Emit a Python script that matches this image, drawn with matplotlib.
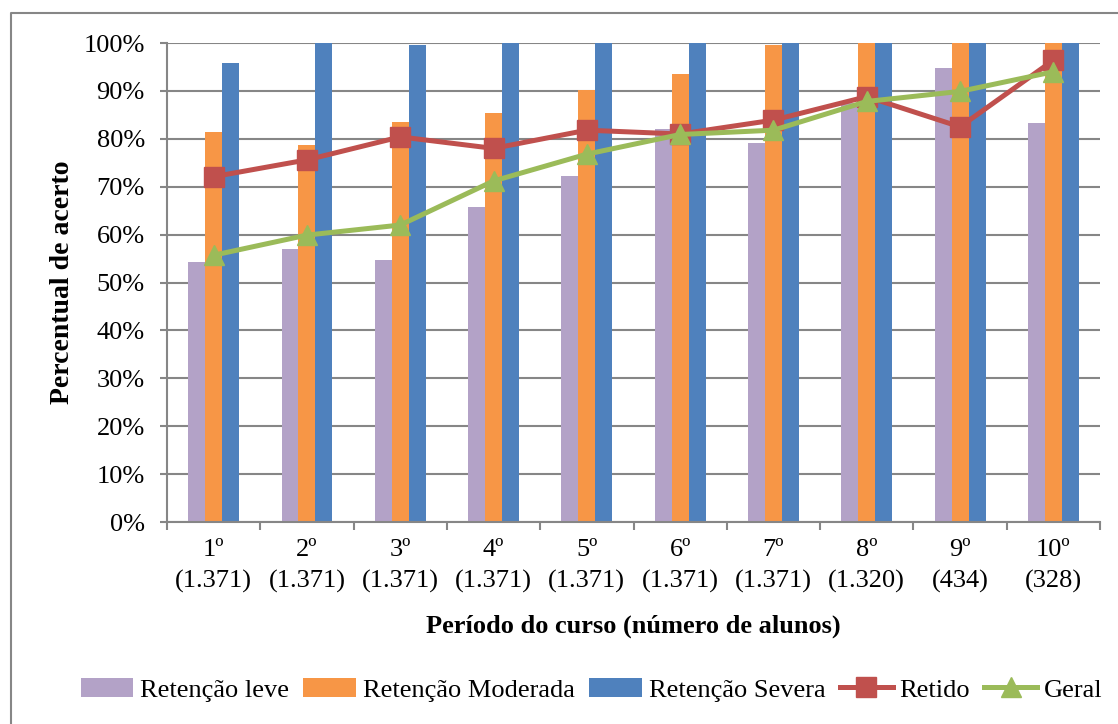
import numpy as np
import matplotlib
matplotlib.use("Agg")
import matplotlib.pyplot as plt
from matplotlib.lines import Line2D

plt.rcParams['font.family'] = 'Liberation Serif'

# Percentual de acerto por período do curso
periodos = ["1\u00ba", "2\u00ba", "3\u00ba", "4\u00ba", "5\u00ba",
            "6\u00ba", "7\u00ba", "8\u00ba", "9\u00ba", "10\u00ba"]
alunos = ["1.371", "1.371", "1.371", "1.371", "1.371", "1.371", "1.371", "1.320", "434", "328"]

ret_leve = [54.2, 57.0, 54.8, 65.8, 72.3, 82.0, 79.2, 87.5, 94.8, 83.4]
ret_moderada = [81.4, 78.8, 83.5, 85.3, 90.1, 93.6, 99.6, 100.0, 100.0, 100.0]
ret_severa = [95.8, 100.0, 99.6, 100.0, 100.0, 100.0, 100.0, 100.0, 100.0, 100.0]
retido = [72.1, 75.6, 80.4, 78.0, 81.8, 81.0, 83.9, 88.8, 82.5, 96.4]
geral = [55.7, 59.9, 62.0, 71.2, 76.8, 80.9, 81.8, 87.8, 89.9, 94.0]

retencao = "Reten\u00e7\u00e3o"

fig = plt.figure(figsize=(11.18, 7.24), dpi=100)
ax = fig.add_axes([0.1494, 0.279, 0.8345, 0.6616])

x = np.arange(len(periodos))
w = 0.182
b1 = ax.bar(x - w, ret_leve, w, color="#B3A2C7", label=retencao + " leve", zorder=2)
b2 = ax.bar(x, ret_moderada, w, color="#F79646", label=retencao + " Moderada", zorder=2)
b3 = ax.bar(x + w, ret_severa, w, color="#4F81BD", label=retencao + " Severa", zorder=2)
l1, = ax.plot(x, retido, color="#C0504D", lw=3.6, marker="s", ms=14,
              label="Retido", zorder=3)
l2, = ax.plot(x, geral, color="#9BBB59", lw=3.6, marker="^", ms=14,
              label="Geral", zorder=4)

ax.set_ylim(0, 100)
ax.set_xlim(-0.5, len(periodos) - 0.5)
ax.set_yticks(np.arange(0, 101, 10))
ax.set_yticklabels([f"{v}%" for v in range(0, 101, 10)], fontsize=19)
ax.yaxis.grid(True, color="#868686", lw=1.5, zorder=0)

# rótulos no centro, marcas entre as categorias
ax.set_xticks(x)
ax.set_xticklabels([f"{p}\n({n})" for p, n in zip(periodos, alunos)],
                   fontsize=19, linespacing=1.5)
ax.set_xticks(np.arange(-0.5, len(periodos)), minor=True)
ax.tick_params(axis="x", which="major", length=0, pad=12)
ax.tick_params(axis="x", which="minor", length=6, color="#868686", width=1.5)
ax.tick_params(axis="y", length=5, color="#868686", width=1.5, pad=11)

for side in ["top", "right"]:
    ax.spines[side].set_visible(False)
for side in ["left", "bottom"]:
    ax.spines[side].set_color("#868686")
    ax.spines[side].set_linewidth(1.5)

ax.set_ylabel("Percentual de acerto", fontsize=20, fontweight="bold", labelpad=6)
ax.set_xlabel("Per\u00edodo do curso (n\u00famero de alunos)", fontsize=19,
              fontweight="bold", labelpad=16)

fig.legend(handles=[b1, b2, b3, l1, l2], loc="center",
           bbox_to_anchor=(0.529, 0.047), ncol=5, frameon=False,
           prop={"family": "Liberation Serif", "size": 19},
           handlelength=2.0, handletextpad=0.25,
           columnspacing=0.55, borderaxespad=0)

# moldura do gráfico
fig.add_artist(Line2D([11 / 1118, 11 / 1118, 1.0], [0.0, 1 - 13 / 724, 1 - 13 / 724],
                      transform=fig.transFigure, color="#868686", lw=1.5))

fig.savefig("out.png", dpi=100)
